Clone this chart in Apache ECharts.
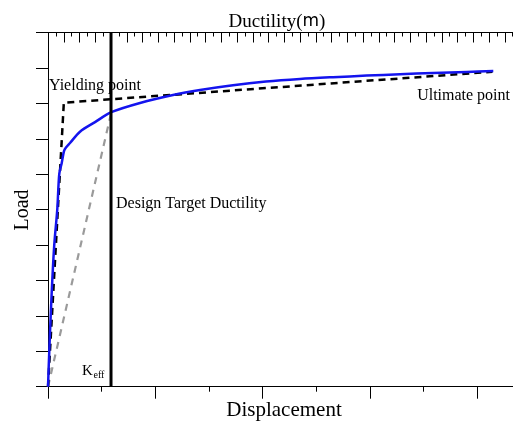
<!DOCTYPE html>
<html>
<head>
<meta charset="utf-8">
<script src="https://cdn.jsdelivr.net/npm/echarts@6/dist/echarts.min.js"></script>
<style>html,body{margin:0;padding:0;background:#fff;}#c{width:513px;height:423px;}</style>
</head>
<body>
<div id="c"></div>
<script>
// Capacity curve (displacement, load)
const capacityX = [0, 0.024, 0.050, 0.080, 0.117, 0.173, 0.210, 0.255, 0.298, 0.335, 0.41, 0.596, 0.876, 1.18, 1.714, 2.329, 2.832, 3.447, 4.061, 4.695, 5.310, 5.938, 6.558, 7.173, 7.801, 8.296];
const capacityY = [0, 1.01, 2.00, 3.01, 4.01, 5.01, 6.01, 6.31, 6.65, 6.75, 6.88, 7.20, 7.47, 7.75, 8.010, 8.236, 8.377, 8.512, 8.614, 8.687, 8.738, 8.783, 8.823, 8.857, 8.888, 8.910];
// Bilinear idealisation: origin, yielding point, ultimate point
const bilinearX = [0, 0.295, 8.28];
const bilinearY = [0, 8.02, 8.89];
// Effective stiffness line
const keffX = [0, 1.18];
const keffY = [0, 7.75];
// Design target ductility (top axis units)
const designTargetDuctility = 4;
const loadRange = [0, 10];
const dispRange = [0, 8.663];
const ductilityRange = [0, 29.52];

const zip = (a, b) => a.map((v, i) => [v, b[i]]);
const serif = 'Liberation Serif';
const blk = {color: '#000', width: 1};

function xAx(pos, range, interval, len, inside, showLine) {
  return {
    type: 'value', position: pos, min: range[0], max: range[1], interval: interval,
    axisLine: {show: showLine, onZero: false, lineStyle: blk},
    axisTick: {show: true, inside: inside, length: len, lineStyle: blk},
    axisLabel: {show: false}, splitLine: {show: false}
  };
}

const chart = echarts.init(document.getElementById('c'), null, {renderer: 'canvas'});
chart.setOption({
  animation: false,
  backgroundColor: '#ffffff',
  grid: {left: 48, top: 32.5, right: 0, bottom: 36.3, containLabel: false},
  xAxis: [
    xAx('bottom', dispRange, 2, 12, false, true),
    xAx('bottom', dispRange, 1, 5, false, false),
    xAx('top', ductilityRange, 1, 10, true, true),
    xAx('top', ductilityRange, 0.5, 4, true, false)
  ],
  yAxis: {
    type: 'value', min: loadRange[0], max: loadRange[1], interval: 1,
    axisLine: {show: true, onZero: false, lineStyle: blk},
    axisTick: {show: true, inside: false, length: 12, lineStyle: blk},
    axisLabel: {show: false}, splitLine: {show: false}
  },
  series: [
    {
      type: 'line', xAxisIndex: 0, data: zip(keffX, keffY), symbol: 'none',
      lineStyle: {color: '#9a9a9a', width: 2.2, type: [7, 6]}
    },
    {
      type: 'line', xAxisIndex: 0, data: zip(bilinearX, bilinearY), symbol: 'none',
      lineStyle: {color: '#000', width: 2.5, type: [7, 5]}
    },
    {
      type: 'line', xAxisIndex: 0, data: zip(capacityX, capacityY), symbol: 'none',
      smooth: 0.3,
      lineStyle: {color: '#1414ee', width: 2.5}
    },
    {
      type: 'line', xAxisIndex: 2, data: [[designTargetDuctility, loadRange[0]], [designTargetDuctility, loadRange[1]]],
      symbol: 'none', lineStyle: {color: '#000', width: 3}
    }
  ],
  graphic: [
    {type: 'text', x: 277, y: 22, style: {text: '{a|Ductility(}{b|m}{a|)}', align: 'center', verticalAlign: 'middle',
      rich: {a: {fontFamily: serif, fontSize: 19, fill: '#000'}, b: {fontFamily: 'DejaVu Sans', fontSize: 17, fill: '#000'}}}},
    {type: 'text', x: 284, y: 410, style: {text: 'Displacement', fontFamily: serif, fontSize: 21, fill: '#000', align: 'center', verticalAlign: 'middle'}},
    {type: 'text', x: 22.5, y: 210, rotation: Math.PI / 2, style: {text: 'Load', fontFamily: serif, fontSize: 20, fill: '#000', align: 'center', verticalAlign: 'middle'}},
    {type: 'text', x: 49, y: 86, style: {text: 'Yielding point', fontFamily: serif, fontSize: 16, fill: '#000', align: 'left', verticalAlign: 'middle'}},
    {type: 'text', x: 510, y: 96, style: {text: 'Ultimate point', fontFamily: serif, fontSize: 16, fill: '#000', align: 'right', verticalAlign: 'middle'}},
    {type: 'text', x: 116, y: 204, style: {text: 'Design Target Ductility', fontFamily: serif, fontSize: 16, fill: '#000', align: 'left', verticalAlign: 'middle'}},
    {type: 'text', x: 82, y: 371, style: {text: 'K', fontFamily: serif, fontSize: 15, fill: '#000', align: 'left', verticalAlign: 'middle'}},
    {type: 'text', x: 93.5, y: 375.5, style: {text: 'eff', fontFamily: serif, fontSize: 10, fill: '#000', align: 'left', verticalAlign: 'middle'}}
  ]
});
</script>
</body>
</html>
